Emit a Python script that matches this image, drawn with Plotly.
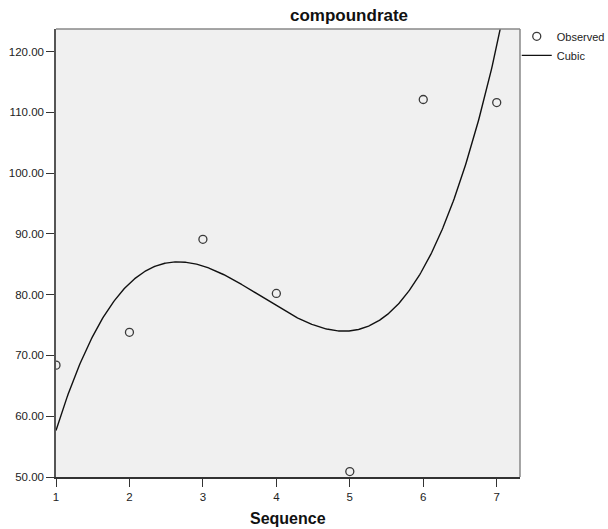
import numpy as np
import plotly.graph_objects as go

sequence = [1, 2, 3, 4, 5, 6, 7]
observed = [68.4, 73.8, 89.1, 80.2, 50.9, 112.1, 111.6]

# Cubic model curve at several positions
cubic_x = [1, 2, 2.69, 4, 4.93, 5.41, 6, 6.32, 6.82, 7.045]
cubic_y = [57.7, 81.9, 85.15, 78.1, 74.2, 76.6, 83.5, 92.3, 111.6, 123.7]

coef = np.polyfit(cubic_x, cubic_y, 3)
xs = np.linspace(1, 7.32, 500)
ys = np.polyval(coef, xs)

FONT = "Liberation Sans, Arial, sans-serif"
fig = go.Figure()
fig.add_trace(go.Scatter(x=sequence, y=observed, mode="markers", name="Observed",
                         marker=dict(symbol="circle-open", size=8, color="#3a3a3a",
                                     line=dict(width=1.3, color="#3a3a3a")),
                         cliponaxis=True))
fig.add_trace(go.Scatter(x=xs, y=ys, mode="lines", name="Cubic",
                         line=dict(color="#111111", width=1.4)))

fig.update_layout(
    width=608, height=529,
    margin=dict(l=56, r=88, t=29, b=52, autoexpand=False),
    paper_bgcolor="white", plot_bgcolor="#f0f0f0",
    font=dict(family=FONT, size=11.5, color="#222222"),
    showlegend=True,
    legend=dict(x=0.993, xanchor="left", y=1.016, yanchor="top",
                font=dict(size=11, family=FONT, color="#222222"), itemwidth=30,
                bgcolor="rgba(0,0,0,0)", tracegroupgap=0),
    xaxis=dict(range=[1, 7.317], tickvals=sequence, ticks="outside", ticklen=8,
               tickcolor="#333333", showline=True, linecolor="#333333", linewidth=1.5,
               mirror=False, showgrid=False, zeroline=False),
    yaxis=dict(range=[50, 123.7], tickvals=[50, 60, 70, 80, 90, 100, 110, 120],
               tickformat=".2f", ticks="outside", ticklen=8, tickcolor="#333333",
               showline=True, linecolor="#555555", linewidth=1.5,
               showgrid=False, zeroline=False),
    shapes=[dict(type="line", xref="paper", yref="paper", x0=0, x1=1, y0=1, y1=1,
                 line=dict(color="#888888", width=1.5)),
            dict(type="line", xref="paper", yref="paper", x0=1, x1=1, y0=0, y1=1,
                 line=dict(color="#888888", width=1.5))],
    annotations=[dict(text="<b>compoundrate</b>", xref="paper", yref="paper",
                      x=(349 - 56) / 464, y=1, yshift=14, yanchor="middle",
                      showarrow=False,
                      font=dict(size=17, family=FONT, color="#111111")),
                 dict(text="<b>Sequence</b>", xref="paper", yref="paper",
                      x=0.5, y=0, yshift=-41, yanchor="middle", showarrow=False,
                      font=dict(size=16, family=FONT, color="#111111"))],
)
fig.write_html("out.html")
